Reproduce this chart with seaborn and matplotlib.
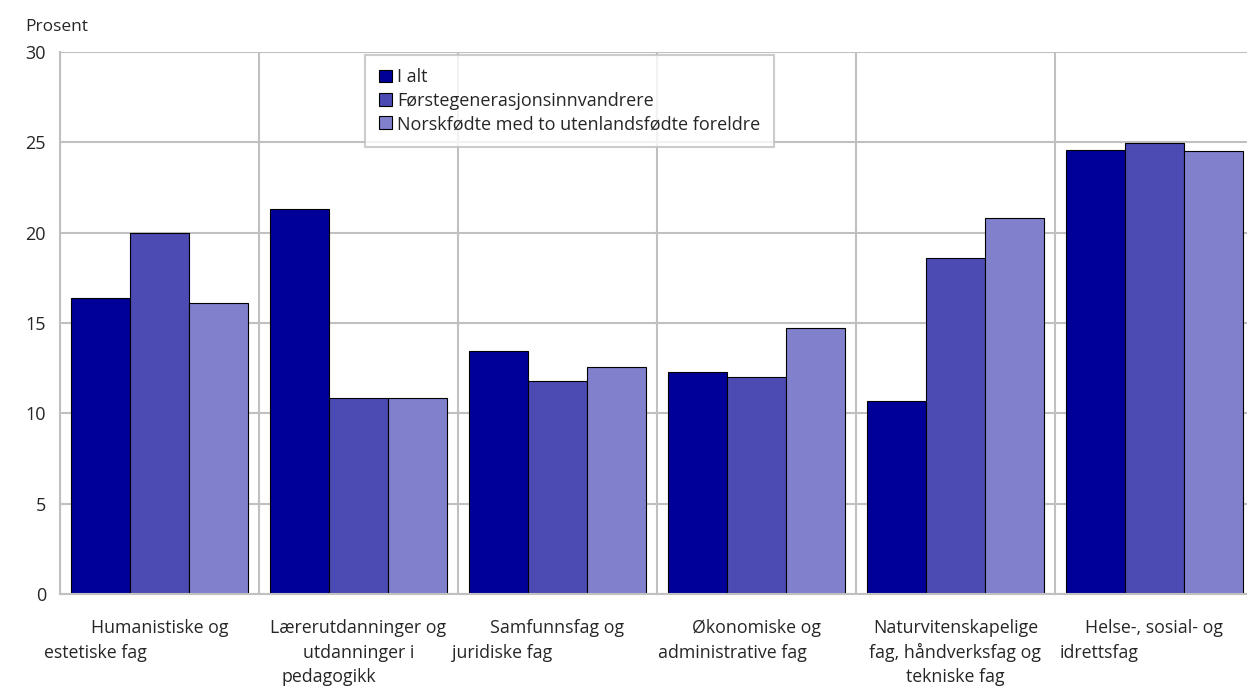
import pandas as pd
import seaborn as sns
import matplotlib.pyplot as plt
from matplotlib.transforms import blended_transform_factory

# Data
fag = ['Humanistiske og estetiske fag',
       'Lærerutdanninger og utdanninger i pedagogikk',
       'Samfunnsfag og juridiske fag',
       'Økonomiske og administrative fag',
       'Naturvitenskapelige fag, håndverksfag og tekniske fag',
       'Helse-, sosial- og idrettsfag']
grupper = ['I alt', 'Førstegenerasjonsinnvandrere',
           'Norskfødte med to utenlandsfødte foreldre']
i_alt = [16.4, 21.3, 13.45, 12.3, 10.7, 24.55]
forste = [20.0, 10.85, 11.8, 12.0, 18.6, 24.95]
norskfodte = [16.1, 10.85, 12.55, 14.7, 20.8, 24.5]

# wrapped tick labels, with offset of each line from the category centre
etiketter = [
    [('Humanistiske og', 0.0), ('estetiske fag', -0.32)],
    [('Lærerutdanninger og', 0.0), ('utdanninger i', 0.0), ('pedagogikk', -0.15)],
    [('Samfunnsfag og', 0.0), ('juridiske fag', -0.28)],
    [('Økonomiske og', 0.0), ('administrative fag', -0.12)],
    [('Naturvitenskapelige', 0.0), ('fag, håndverksfag og', 0.0), ('tekniske fag', 0.0)],
    [('Helse-, sosial- og', 0.0), ('idrettsfag', -0.28)],
]

df = pd.concat([pd.DataFrame({'fag': fag, 'verdi': v, 'gruppe': g})
                for g, v in zip(grupper, [i_alt, forste, norskfodte])])

sns.set_style('white')
plt.rcParams['font.family'] = ['Open Sans', 'DejaVu Sans']
plt.rcParams['font.size'] = 12

fig = plt.figure(figsize=(12.47, 6.87), dpi=100)
ax = fig.add_axes([60 / 1247, 93 / 687, 1194 / 1247, 542 / 687])

farger = ['#000099', '#4b4bb3', '#8080cc']
sns.barplot(data=df, x='fag', y='verdi', hue='gruppe', palette=farger,
            saturation=1, edgecolor='black', linewidth=0.8, width=0.885,
            gap=0, ax=ax)

ax.set_xlim(-0.5, 5.5)
ax.set_ylim(0, 30)
ax.set_yticks(range(0, 31, 5))
ax.set_xticks(range(6))
ax.set_xticklabels([])
ax.set_xticks([k - 0.5 for k in range(7)], minor=True)
ax.tick_params(axis='x', which='major', length=0)
ax.tick_params(axis='x', which='minor', length=8, color='#c0c0c0', width=1.5)
ax.tick_params(axis='y', length=7, color='#c0c0c0', width=1.5, labelsize=13, pad=3)
ax.grid(axis='y', color='#c0c0c0', linewidth=1.5)
ax.grid(axis='x', which='minor', color='#c0c0c0', linewidth=1.5)
ax.set_axisbelow(True)
for s in ['top', 'right']:
    ax.spines[s].set_visible(False)
for s in ['left', 'bottom']:
    ax.spines[s].set_color('#c0c0c0')
    ax.spines[s].set_linewidth(1.5)
ax.set_xlabel('')
ax.set_ylabel('')

trans = blended_transform_factory(ax.transData, ax.transAxes)
for i, linjer in enumerate(etiketter):
    for j, (tekst, dx) in enumerate(linjer):
        ax.text(i + dx, -0.062 - j * 0.046, tekst, transform=trans,
                ha='center', va='center', fontsize=12.8)

ax.text(-0.029, 1.046, 'Prosent', transform=ax.transAxes, ha='left',
        va='center', fontsize=12.5)

leg = ax.legend(loc='upper left', bbox_to_anchor=(0.2555, 0.995), frameon=True,
                fancybox=False, edgecolor='#c0c0c0', fontsize=13,
                handlelength=0.72, handleheight=0.72, handletextpad=0.3,
                borderpad=0.75, labelspacing=0.3, borderaxespad=0)
leg.get_frame().set_linewidth(1.5)
for h in leg.legend_handles:
    h.set_edgecolor('black')
    h.set_linewidth(0.8)

fig.savefig('out.png', dpi=100)
